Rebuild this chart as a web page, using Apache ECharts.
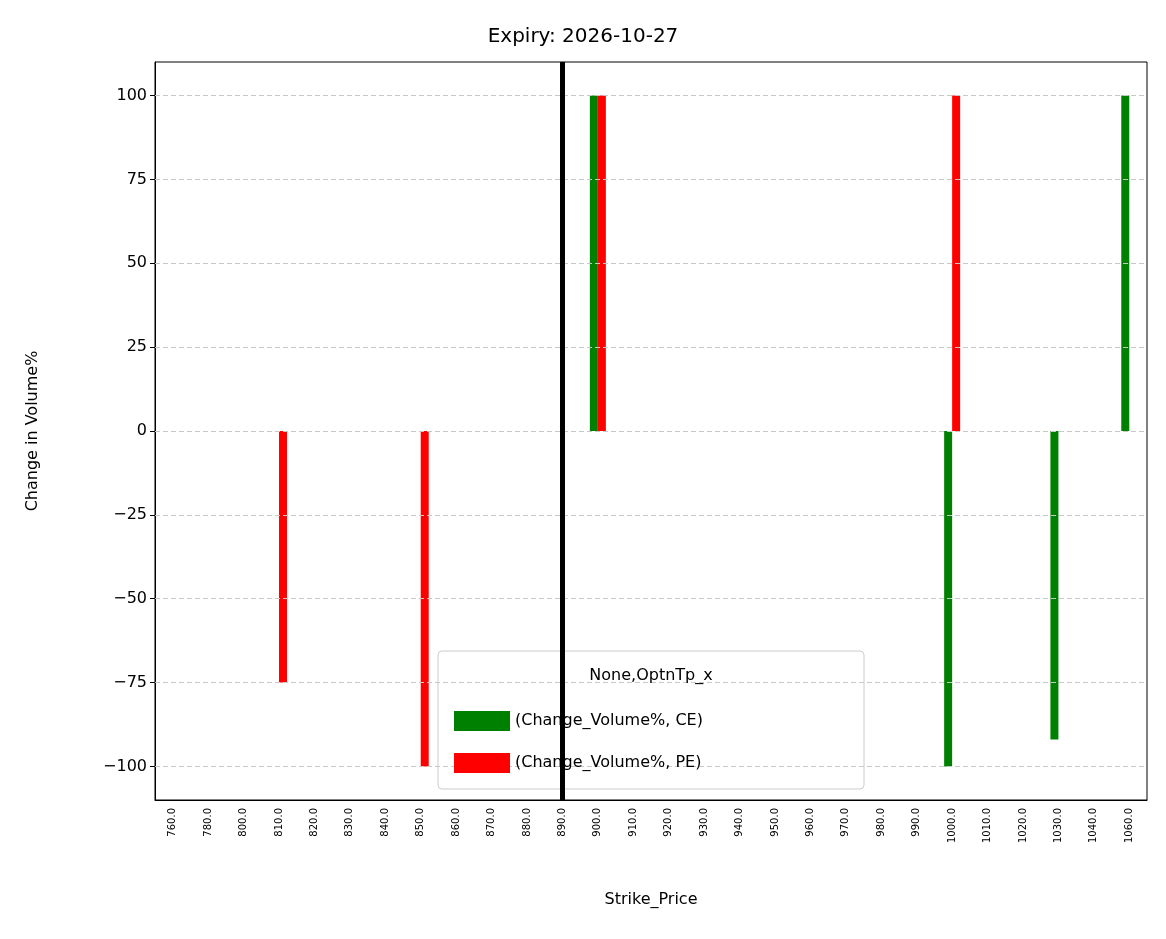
<!DOCTYPE html>
<html><head><meta charset="utf-8">
<script src="https://cdn.jsdelivr.net/npm/echarts@6/dist/echarts.min.js"></script>
<style>html,body{margin:0;padding:0;background:#fff}#c{width:1166px;height:939px}</style>
</head><body><div id="c"></div>
<script>
const categories = ['760.0','780.0','800.0','810.0','820.0','830.0','840.0','850.0','860.0','870.0','880.0','890.0','900.0','910.0','920.0','930.0','940.0','950.0','960.0','970.0','980.0','990.0','1000.0','1010.0','1020.0','1030.0','1040.0','1060.0'];
const ceValues = [0,0,0,0,0,0,0,0,0,0,0,0,100,0,0,0,0,0,0,0,0,0,-100,0,0,-92,0,100];
const peValues = [0,0,0,-75,0,0,0,-100,0,0,0,0,100,0,0,0,0,0,0,0,0,0,100,0,0,0,0,0];
const yTicks = [-100,-75,-50,-25,0,25,50,75,100];
const spotStrike = '890.0';
const font = 'DejaVu Sans';
const chart = echarts.init(document.getElementById('c'));
chart.setOption({
  animation:false,
  title:{text:'Expiry: 2026-10-27',left:'center',top:22,textStyle:{fontFamily:font,fontSize:20,fontWeight:'normal',color:'#000'}},
  grid:{left:155,right:19,top:62,bottom:139},
  legend:{z:20,data:['(Change_Volume%, CE)','(Change_Volume%, PE)'],orient:'vertical',left:449,top:706,itemWidth:56,itemHeight:20,itemGap:22,icon:'rect',textStyle:{fontFamily:font,fontSize:16,color:'#000'}},
  graphic:[
    {type:'rect',shape:{x:438,y:651,width:426,height:138,r:4},style:{fill:'rgba(255,255,255,0.8)',stroke:'#ccc',lineWidth:1},z:5},
    {type:'text',x:651,y:676,style:{text:'None,OptnTp_x',font:'16px DejaVu Sans',fill:'#000',textAlign:'center',textVerticalAlign:'middle'},z:21},
    {type:'rect',shape:{x:155,y:62,width:992,height:738},style:{fill:'none',stroke:'#000',lineWidth:1},z:1,silent:true}
  ],
  xAxis:{type:'category',data:categories,name:'Strike_Price',nameLocation:'middle',nameGap:92,nameTextStyle:{fontFamily:font,fontSize:16,color:'#000'},
    axisLine:{onZero:false,lineStyle:{color:'#000'}},axisTick:{alignWithLabel:true,lineStyle:{color:'#000'}},
    axisLabel:{rotate:90,fontSize:10,fontFamily:font,color:'#000',interval:0}},
  yAxis:{type:'value',min:-110,max:110,name:'Change in Volume%',nameLocation:'middle',nameGap:114,nameTextStyle:{fontFamily:font,fontSize:16,color:'#000'},
    axisLine:{show:true,lineStyle:{color:'#000'}},axisTick:{show:true,customValues:yTicks,lineStyle:{color:'#000'}},
    axisLabel:{customValues:yTicks,fontSize:16,fontFamily:font,color:'#000',formatter:v=>String(v).replace('-','\u2212')},
    splitLine:{show:false}},
  series:[
    {name:'(Change_Volume%, CE)',type:'bar',data:ceValues,barWidth:8,barGap:'0%',itemStyle:{color:'#008000'},
      markLine:{silent:true,symbol:'none',label:{show:false},lineStyle:{color:'#c8c8c8',type:[5,3],width:1},data:yTicks.map(v=>({yAxis:v}))},z:2},
    {name:'(Change_Volume%, PE)',type:'bar',data:peValues,barWidth:8,itemStyle:{color:'#ff0000'},z:3},
    {name:'spot',type:'line',data:[],z:30,zlevel:0,
      markLine:{z:30,silent:true,symbol:'none',label:{show:false},lineStyle:{color:'#000',type:'solid',width:5},data:[{xAxis:spotStrike}]}}
  ]
});
</script></body></html>
